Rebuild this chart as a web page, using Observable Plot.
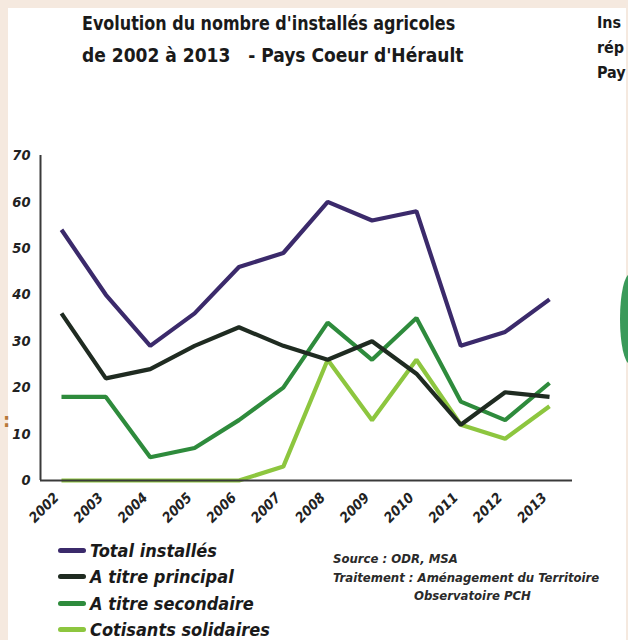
<!DOCTYPE html>
<html><head><meta charset="utf-8">
<script src="https://cdn.jsdelivr.net/npm/d3@7"></script>
<script src="https://cdn.jsdelivr.net/npm/@observablehq/plot@0.6"></script>
<style>
html,body{margin:0;padding:0;}
body{width:628px;height:640px;background:#f5e9df;position:relative;overflow:hidden;font-family:"DejaVu Sans Condensed","DejaVu Sans",sans-serif;}
#page{position:absolute;left:8px;top:8px;width:618px;height:640px;background:#fff;}
.abs{position:absolute;white-space:nowrap;}
.title{left:82px;font-weight:bold;font-size:19px;line-height:32px;color:#1a1a1a;transform-origin:left top;}
#t1{top:7px;transform:scaleX(0.935);}
#t2{top:39px;transform:scaleX(1.0);}
#right{left:597px;top:10px;font-weight:bold;font-size:16px;line-height:25px;color:#1a1a1a;}
#chart{left:0;top:140px;}
#legend{left:58px;top:537px;font-weight:bold;font-style:italic;font-size:18px;color:#1a1a1a;}
#legend div{height:26.5px;display:flex;align-items:center;}
#legend span.sw{display:inline-block;width:28px;height:5px;border-radius:3px;margin-right:4px;}
#source{left:333px;top:550px;font-weight:bold;font-style:italic;font-size:13px;line-height:18.5px;color:#2a2a2a;}
</style></head>
<body>
<div id="page"></div>
<div class="abs" style="left:3px;top:408px;color:#b8783a;font-weight:bold;font-size:20px;">:</div>
<div class="abs" style="left:620px;top:274px;width:20px;height:90px;border-radius:50%;background:#3a9a5a;"></div>
<div class="abs" id="right">Ins<br>rép<br>Pay</div>
<div class="abs title" id="t1">Evolution du nombre d'installés agricoles</div>
<div class="abs title" id="t2">de 2002 à 2013&nbsp;&nbsp; - Pays Coeur d'Hérault</div>
<div class="abs" id="chart"></div>
<div class="abs" id="legend"></div>
<div class="abs" id="source">Source : ODR, MSA<br>Traitement : Aménagement du Territoire<br><span style="padding-left:81px">Observatoire PCH</span></div>
<script>
const years = [2002,2003,2004,2005,2006,2007,2008,2009,2010,2011,2012,2013];
const total = [54,40,29,36,46,49,60,56,58,29,32,39];
const principal = [36,22,24,29,33,29,26,30,23,12,19,18];
const secondaire = [18,18,5,7,13,20,34,26,35,17,13,21];
const cotisants = [0,0,0,0,0,3,26,13,26,12,9,16];
const seriesNames = ["Total installés","A titre principal","A titre secondaire","Cotisants solidaires"];
const seriesColors = ["#3b2a6b","#1f2b21","#2e8b3c","#8dc63f"];
const yTicks = [0,10,20,30,40,50,60,70];

const allSeries = [total, principal, secondaire, cotisants];
const rows = [];
allSeries.forEach((vals, si) => vals.forEach((v, i) => rows.push({year: years[i], value: v, series: seriesNames[si]})));
const drawOrder = [3,2,1,0];

const plot = Plot.plot({
  width: 628, height: 390,
  marginLeft: 40, marginRight: 56, marginTop: 15, marginBottom: 50,
  style: {background: "transparent", fontFamily: "'DejaVu Sans Condensed','DejaVu Sans',sans-serif"},
  x: {domain: [2001.527, 2013.518], ticks: years, tickFormat: d => String(d), label: null},
  y: {domain: [0, 70], ticks: yTicks, label: null},
  color: {domain: seriesNames, range: seriesColors},
  marks: [
    Plot.axisY({ticks: yTicks, label: null, tickSize: 0, tickPadding: 10, fontSize: 14.5, fontWeight: "bold", fontStyle: "italic", fill: "#222"}),
    Plot.axisX({ticks: years, label: null, tickFormat: d => String(d), tickSize: 0, tickPadding: 12, tickRotate: -45, dx: -5, dy: 3, fontSize: 14, fontWeight: "bold", fontStyle: "italic", fill: "#222"}),
    ...drawOrder.map(si => Plot.line(rows.filter(r => r.series === seriesNames[si]), {x: "year", y: "value", stroke: "series", strokeWidth: 4.2, strokeLinejoin: "miter", strokeLinecap: "butt"})),
    Plot.ruleY([0], {stroke: "#3a3a3a", strokeWidth: 2}),
    Plot.ruleX([2001.527], {y1: 0, y2: 70, stroke: "#3a3a3a", strokeWidth: 2})
  ]
});
document.getElementById("chart").appendChild(plot);

const leg = document.getElementById("legend");
seriesNames.forEach((n, i) => {
  const d = document.createElement("div");
  d.innerHTML = `<span class="sw" style="background:${seriesColors[i]}"></span>${n}`;
  leg.appendChild(d);
});
</script>
</body></html>
